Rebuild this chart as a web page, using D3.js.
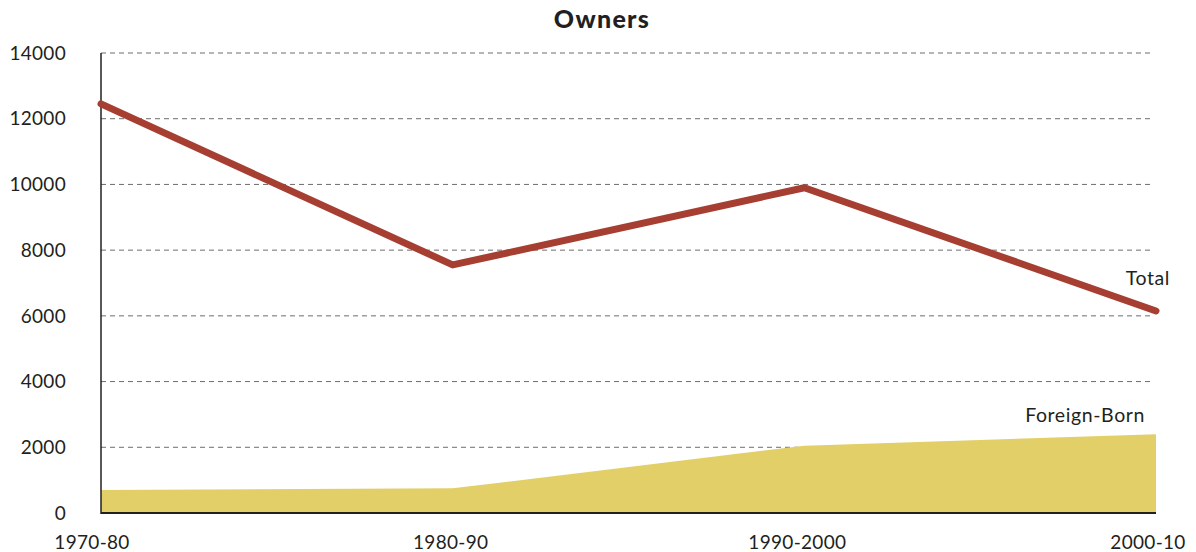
<!DOCTYPE html>
<html><head><meta charset="utf-8">
<script src="https://cdn.jsdelivr.net/npm/d3@7"></script>
<style>body{margin:0;background:#fff}svg{display:block}text{font-family:Lato,"Open Sans",sans-serif;fill:#231f20}</style>
</head><body><svg id="c" width="1196" height="552"></svg>
<script>
const categories = ["1970-80","1980-90","1990-2000","2000-10"];
const totalValues = [12450, 7550, 9900, 6150];
const foreignBornValues = [700, 750, 2050, 2400];
const yTicks = [0,2000,4000,6000,8000,10000,12000,14000];

const svg = d3.select("#c");
const L = 101, R = 1156, T = 53, B = 513;
const x = d3.scalePoint().domain(categories).range([L, R]);
const y = d3.scaleLinear().domain([0, 14000]).range([B, T]);

// grid
svg.append("g").selectAll("line").data(yTicks.filter(d=>d>0)).join("line")
  .attr("x1", L).attr("x2", R-3).attr("y1", d=>y(d)).attr("y2", d=>y(d))
  .attr("stroke", "#6d6d6d").attr("stroke-width", 1).attr("stroke-dasharray", "5,4");

// area
const area = d3.area().x((d,i)=>x(categories[i])).y0(y(0)).y1(d=>y(d));
svg.append("path").datum(foreignBornValues).attr("d", area).attr("fill", "#e2cf68");

// axes lines
svg.append("line").attr("x1", L).attr("x2", L).attr("y1", T).attr("y2", B+1).attr("stroke", "#231f20").attr("stroke-width", 1.5);
svg.append("line").attr("x1", L).attr("x2", R).attr("y1", B).attr("y2", B).attr("stroke", "#231f20").attr("stroke-width", 2);

// total line
const line = d3.line().x((d,i)=>x(categories[i])).y(d=>y(d));
svg.append("path").datum(totalValues).attr("d", line).attr("fill", "none")
  .attr("stroke", "#a63f32").attr("stroke-width", 7).attr("stroke-linecap", "round").attr("stroke-linejoin", "round");

// y tick labels
svg.append("g").selectAll("text").data(yTicks).join("text")
  .attr("x", 66).attr("y", d=>y(d)).attr("dy", "0.35em").attr("text-anchor", "end")
  .attr("font-size", 19).attr("letter-spacing", 0.3).text(d=>d);

// x tick labels
const xOff = [-9, -2, -7, -8];
svg.append("g").selectAll("text").data(categories).join("text")
  .attr("x", (d,i)=>x(d)+xOff[i]).attr("y", 549).attr("text-anchor", "middle")
  .attr("font-size", 19).attr("letter-spacing", 0.3).text(d=>d);

// title
svg.append("text").attr("x", 602).attr("y", 28).attr("text-anchor", "middle")
  .attr("font-size", 25).attr("font-weight", 900).attr("letter-spacing", 1.3).text("Owners");

// series labels
svg.append("text").attr("x", 1170).attr("y", 285).attr("text-anchor", "end").attr("font-size", 19.5).attr("letter-spacing", 0.6).text("Total");
svg.append("text").attr("x", 1145).attr("y", 422).attr("text-anchor", "end").attr("font-size", 19.5).attr("letter-spacing", 0.6).text("Foreign-Born");
</script></body></html>
